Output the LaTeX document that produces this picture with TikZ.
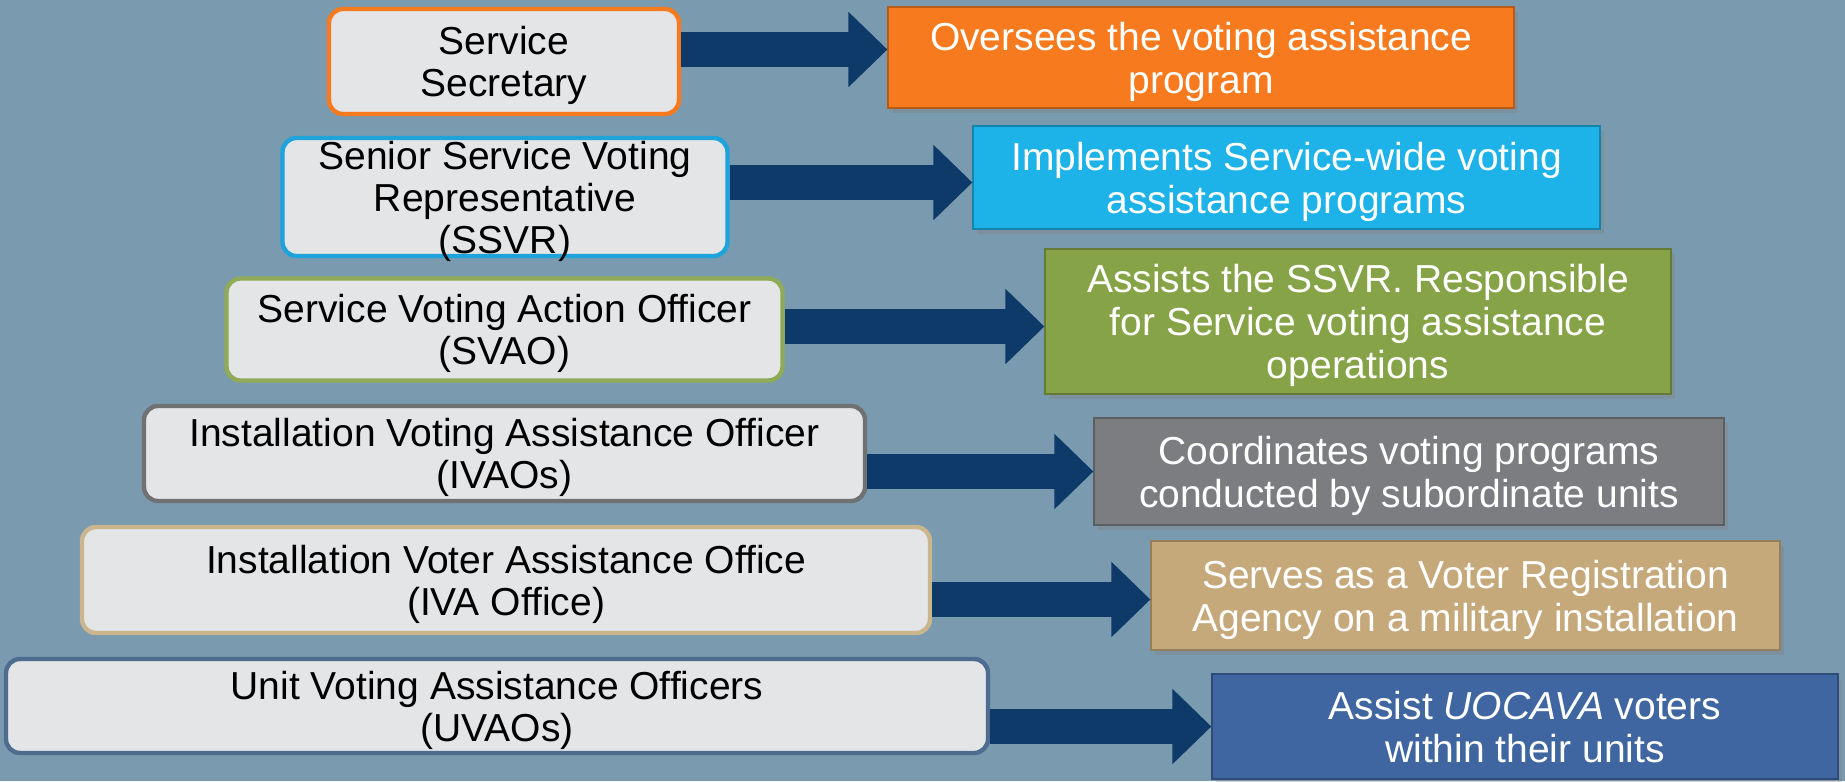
\documentclass[tikz,border=0pt]{standalone}
\usepackage{fontspec}
\setmainfont{Liberation Sans}
\usepackage{tikz}
\usetikzlibrary{arrows.meta,shadows}

\definecolor{slate}{HTML}{7A9AAF}
\definecolor{paper}{HTML}{E3E5E7}
\definecolor{navy}{HTML}{0E3A6A}
\definecolor{pumpkin}{HTML}{F77A1E}
\definecolor{sky}{HTML}{1DB2E8}
\definecolor{olive}{HTML}{86A447}
\definecolor{stone}{HTML}{7B7D81}
\definecolor{sand}{HTML}{C6A97B}
\definecolor{denim}{HTML}{3F66A0}
\definecolor{skyline}{HTML}{1FA3DB}
\definecolor{oliveline}{HTML}{90AB58}
\definecolor{stoneline}{HTML}{6F7173}
\definecolor{sandline}{HTML}{CBB58D}
\definecolor{denimline}{HTML}{4D6C90}

\begin{document}
\begin{tikzpicture}[x=0.5pt, y=-0.5pt,
		role/.style={draw, line width=2.2pt, rounded corners=7pt, fill=paper, align=center,
			inner sep=0pt, text depth=0pt, font=\fontsize{19.5}{21}\selectfont},
		duty/.style={fill=#1, draw=#1!75!black, line width=0.6pt, align=center, text=white,
			inner sep=0pt, text depth=0pt, font=\fontsize{19.5}{21.5}\selectfont,
			drop shadow={opacity=0.35, shadow xshift=2pt, shadow yshift=-2.5pt}},
		link/.style={draw=navy, line width=17.5pt, -{Triangle[length=19.5pt,width=36.5pt]}}]

	\useasboundingbox[fill=slate] (0,0) rectangle (1845,781);

	\node[role, draw=pumpkin, minimum width=175pt, minimum height=52.5pt] (secretary) at (504,61.5) {Service\\Secretary};
	\node[role, draw=skyline, minimum width=222.5pt, minimum height=59pt] (ssvr) at (505,197) {Senior Service Voting\\Representative\\(SSVR)};
	\node[role, draw=oliveline, minimum width=278pt, minimum height=51pt] (svao) at (504.5,329.5) {Service Voting Action Officer\\(SVAO)};
	\node[role, draw=stoneline, minimum width=360.5pt, minimum height=47.5pt] (ivao) at (504.5,453.5) {Installation Voting Assistance Officer\\(IVAOs)};
	\node[role, draw=sandline, minimum width=424pt, minimum height=53pt] (ivaoffice) at (506,580) {Installation Voter Assistance Office\\(IVA Office)};
	\node[role, draw=denimline, minimum width=491pt, minimum height=47pt] (uvao) at (497,706) {Unit Voting Assistance Officers\\(UVAOs)};

	\node[duty=pumpkin, minimum width=313pt, minimum height=50.5pt] (oversee) at (1201,57.5) {Oversees the voting assistance\\program};
	\node[duty=sky, minimum width=313.5pt, minimum height=51.5pt] (implement) at (1286.5,177.5) {Implements Service-wide voting\\assistance programs};
	\node[duty=olive, minimum width=313pt, minimum height=72.5pt] (assistssvr) at (1358,321.5) {Assists the SSVR. Responsible\\for Service voting assistance\\operations};
	\node[duty=stone, minimum width=315pt, minimum height=53.5pt] (coordinate) at (1409,471.5) {Coordinates voting programs\\conducted by subordinate units};
	\node[duty=sand, minimum width=314.5pt, minimum height=54.5pt] (register) at (1465.5,595.5) {Serves as a Voter Registration\\Agency on a military installation};
	\node[duty=denim, minimum width=313pt, minimum height=52.5pt] (assistunit) at (1525,726.5) {Assist \textit{UOCAVA} voters\\within their units};

	\draw[link] ([yshift=4pt]secretary.east |- oversee.west) -- ([yshift=4pt]oversee.west);
	\draw[link] ([yshift=-2.5pt]ssvr.east |- implement.west) -- ([yshift=-2.5pt]implement.west);
	\draw[link] ([yshift=-2.5pt]svao.east |- assistssvr.west) -- ([yshift=-2.5pt]assistssvr.west);
	\draw[link] (ivao.east |- coordinate.west) -- (coordinate.west);
	\draw[link] ([yshift=-2pt]ivaoffice.east |- register.west) -- ([yshift=-2pt]register.west);
	\draw[link] (uvao.east |- assistunit.west) -- (assistunit.west);

\end{tikzpicture}
\end{document}
